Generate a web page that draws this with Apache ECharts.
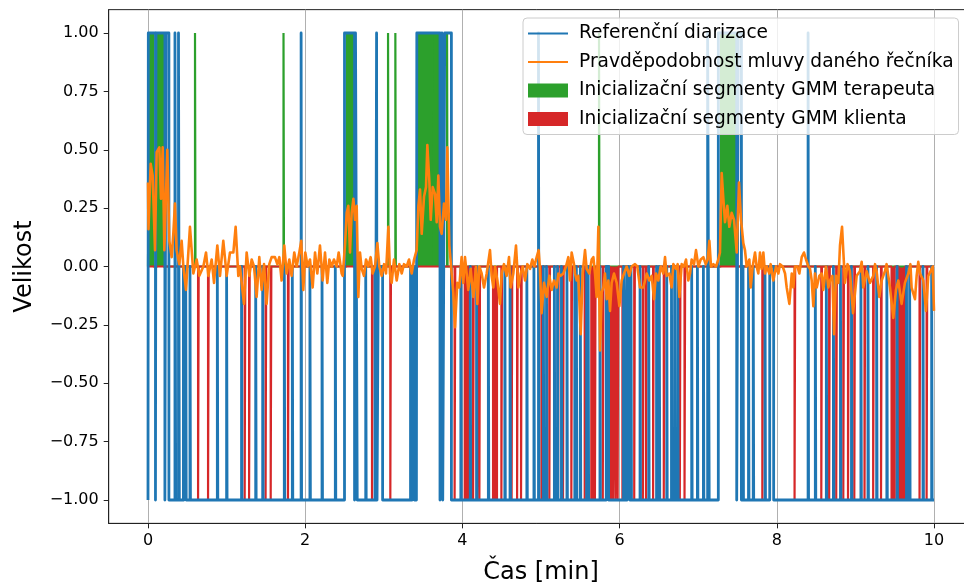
<!DOCTYPE html>
<html><head><meta charset="utf-8">
<script src="https://cdn.jsdelivr.net/npm/echarts@6/dist/echarts.min.js"></script>
<style>html,body{margin:0;padding:0;background:#fff}#c{width:964px;height:585px}</style>
</head><body><div id="c"></div>
<script>
// ---- data ----
const xTicks = [0, 2, 4, 6, 8, 10];
const yTicks = [-1, -0.75, -0.5, -0.25, 0, 0.25, 0.5, 0.75, 1];
const timeStart = 0, timeEnd = 10;
// probability of the speaker's speech: [time (min), value]
const probPoints = [
  [0,0.36],[0.006,0.16],[0.034,0.44],[0.059,0.39],[0.089,0.07],[0.11,0.49],[0.144,0.51],[0.165,0.29],[0.187,0.51],[0.208,0.07],
  [0.246,0.50],[0.271,0.11],[0.301,0.04],[0.322,0.14],[0.343,0.27],[0.364,0.07],[0.398,0.01],[0.428,0.11],[0.45,0.0],[0.483,-0.10],
  [0.534,0.17],[0.577,-0.03],[0.619,0.03],[0.653,-0.04],[0.704,0.0],[0.738,0.06],[0.768,-0.04],[0.81,0.03],[0.84,-0.07],[0.882,0.09],
  [0.916,-0.04],[0.958,0.11],[1.001,-0.04],[1.043,0.06],[1.086,0.06],[1.115,0.17],[1.149,-0.04],[1.17,0.0],
  [1.192,-0.07],[1.221,-0.16],[1.255,0.06],[1.289,-0.04],[1.319,0.03],[1.349,0.0],[1.382,-0.13],[1.416,0.04],[1.446,-0.10],[1.476,0.01],
  [1.509,-0.16],[1.543,0.01],[1.573,0.04],[1.615,0.04],[1.645,0.01],[1.671,0.04],[1.70,-0.06],[1.734,0.09],[1.764,-0.03],[1.798,0.03],
  [1.827,-0.04],[1.861,0.06],[1.891,0.0],[1.925,0.06],[1.95,0.11],[1.976,-0.10],[2.001,0.06],[2.031,0.0],[2.061,0.03],[2.095,-0.09],
  [2.125,0.06],[2.154,-0.03],[2.188,0.09],[2.222,-0.06],[2.252,0.06],[2.281,-0.07],[2.307,0.03],[2.337,0.0],[2.366,0.03],[2.40,0.0],
  [2.426,0.06],[2.464,-0.03],[2.477,-0.04],[2.506,0.09],[2.528,0.23],[2.549,0.26],[2.57,0.06],[2.591,0.23],[2.613,0.29],[2.634,0.20],
  [2.655,0.26],[2.676,-0.13],[2.697,0.06],[2.719,-0.01],[2.748,-0.04],[2.774,0.03],[2.803,0.0],[2.833,0.04],[2.858,-0.03],[2.888,0.0],
  [2.918,0.10],[2.943,0.0],[2.973,-0.04],[3.003,0.01],[3.028,-0.03],[3.058,0.17],[3.079,-0.03],[3.10,-0.07],[3.13,0.03],[3.164,-0.06],
  [3.198,0.01],[3.228,-0.03],[3.257,0.01],[3.291,0.0],[3.321,0.03],[3.355,-0.03],[3.385,0.03],[3.418,0.07],[3.44,0.26],[3.461,0.33],
  [3.482,0.14],[3.512,0.30],[3.537,0.34],[3.554,0.52],[3.58,0.36],[3.597,0.20],[3.622,0.34],[3.652,0.31],[3.673,0.19],[3.694,0.39],
  [3.715,0.17],[3.736,0.14],[3.766,0.27],[3.791,0.20],[3.808,0.51],[3.834,0.09],[3.863,-0.03],[3.884,-0.11],[3.906,-0.26],[3.935,-0.07],
  [3.96,-0.09],[3.99,0.04],[4.011,-0.07],[4.033,0.04],[4.054,-0.03],[4.075,-0.10],[4.105,-0.01],[4.139,-0.13],[4.173,0.0],[4.19,-0.16],
  [4.215,0.0],[4.245,-0.03],[4.275,-0.09],[4.309,-0.03],[4.351,0.07],[4.372,-0.04],[4.394,-0.09],[4.415,0.0],[4.445,-0.06],[4.478,-0.16],
  [4.50,-0.03],[4.529,0.01],[4.563,-0.04],[4.593,0.04],[4.614,-0.09],[4.648,-0.03],[4.682,0.09],[4.712,-0.09],[4.742,-0.03],[4.767,0.0],
  [4.797,-0.06],[4.826,0.01],[4.86,-0.01],[4.89,0.03],[4.915,0.0],[4.945,0.04],[4.97,0.07],[4.985,0.0],
  [5.008,-0.20],[5.038,-0.07],[5.072,-0.13],[5.106,-0.04],[5.136,-0.10],[5.165,-0.06],[5.199,-0.09],[5.221,-0.03],[5.25,-0.04],[5.284,-0.03],
  [5.318,0.0],[5.348,0.04],[5.369,-0.06],[5.39,0.06],[5.42,0.01],[5.433,-0.03],[5.454,-0.06],[5.475,-0.04],[5.505,-0.29],[5.53,-0.03],
  [5.56,0.07],[5.581,-0.01],[5.615,-0.03],[5.645,0.03],[5.666,0.04],[5.687,-0.03],[5.708,-0.13],[5.73,0.17],[5.751,-0.36],[5.772,-0.11],
  [5.793,-0.09],[5.814,-0.03],[5.836,-0.14],[5.857,-0.06],[5.878,-0.19],[5.899,-0.07],[5.929,-0.03],[5.963,-0.07],[5.997,-0.17],[6.026,-0.06],
  [6.056,-0.03],[6.09,0.0],[6.124,-0.04],[6.153,0.0],[6.196,0.01],[6.225,0.0],[6.26,-0.09],
  [6.302,-0.09],[6.345,-0.03],[6.379,-0.06],[6.408,-0.04],[6.438,-0.14],[6.463,-0.03],[6.493,-0.06],[6.522,0.0],[6.556,-0.03],[6.578,0.04],
  [6.599,-0.04],[6.633,-0.03],[6.662,-0.09],[6.684,0.01],[6.718,-0.01],[6.739,0.01],[6.76,-0.13],[6.79,0.01],[6.819,0.0],[6.845,0.03],
  [6.874,-0.06],[6.896,-0.03],[6.917,0.03],[6.947,0.01],[6.972,0.07],[7.002,0.0],[7.032,0.03],[7.066,0.04],[7.095,0.01],[7.121,0.03],
  [7.142,0.11],[7.163,0.0],[7.193,0.01],[7.227,0.0],[7.256,0.03],[7.277,0.06],[7.299,0.40],[7.32,0.29],[7.341,0.19],[7.371,0.26],
  [7.396,0.17],[7.426,0.23],[7.456,0.20],[7.49,0.06],[7.519,0.36],[7.545,0.20],
  [7.574,0.10],[7.595,0.07],[7.617,0.0],[7.651,0.03],[7.668,-0.09],[7.693,0.0],[7.723,0.06],[7.744,0.0],[7.765,-0.03],[7.786,0.06],
  [7.807,-0.01],[7.829,0.06],[7.85,-0.03],[7.871,0.0],[7.905,-0.03],[7.922,0.01],[7.956,-0.06],[7.99,0.0],[8.02,-0.03],[8.041,0.01],
  [8.075,0.0],[8.105,-0.03],[8.126,-0.09],[8.16,-0.16],[8.19,-0.03],[8.211,-0.09],[8.232,0.0],[8.262,0.0],[8.287,-0.03],[8.317,0.04],
  [8.346,0.06],[8.372,0.03],[8.402,0.0],[8.423,-0.01],[8.444,-0.06],[8.465,-0.17],[8.486,-0.03],[8.508,-0.09],[8.541,-0.04],[8.571,-0.03],
  [8.592,-0.10],[8.626,0.0],[8.656,-0.09],[8.677,-0.06],[8.707,-0.04],[8.728,-0.29],[8.753,-0.04],[8.783,-0.07],[8.804,0.09],
  [8.83,0.17],[8.867,-0.07],[8.90,0.01],[8.93,-0.02],[8.97,-0.20],[9.016,-0.04],[9.058,-0.02],[9.08,0.02],[9.10,-0.09],[9.143,-0.02],
  [9.185,-0.07],[9.228,-0.04],[9.25,0.01],[9.27,-0.02],[9.304,-0.13],[9.334,-0.06],[9.376,-0.02],[9.397,0.01],[9.44,-0.09],[9.482,-0.22],
  [9.516,-0.10],[9.546,-0.06],[9.588,-0.16],[9.63,-0.07],[9.673,-0.03],[9.70,0.01],[9.715,-0.09],[9.758,-0.14],[9.779,-0.04],[9.80,0.02],
  [9.822,-0.03],[9.864,-0.06],[9.898,-0.19],[9.927,-0.04],[9.957,-0.02],[9.983,0.0],[10.0,-0.19]
];
// reference diarization: default level -1; [start, end, level]
const refSegments = [
  [0.004,0.095,1],[0.102,0.215,1],[0.228,0.266,1],[0.343,0.352,1],[0.388,0.399,1],
  [0.450,0.456,0],[0.480,0.486,0],[0.534,0.540,0],[0.882,0.888,0],[1.000,1.006,0],[1.190,1.196,0],
  [1.370,1.376,0],[1.459,1.465,0],[1.734,1.740,0],[1.836,1.842,0],[1.948,1.954,1],
  [2.060,2.066,0],[2.214,2.220,0],[2.383,2.389,0],[2.500,2.628,1],[2.640,2.662,1],
  [2.770,2.776,0],[2.888,2.894,0],[2.908,2.914,1],[2.930,2.985,0],
  [3.340,3.360,0],[3.375,3.390,0],[3.400,3.415,0],[3.420,3.715,1],[3.740,3.750,1],[3.775,3.860,1],[3.980,3.986,0],
  [4.100,4.106,0],[4.180,4.186,0],[4.330,4.336,0],[4.540,4.546,0],[4.606,4.612,0],[4.820,4.826,0],[4.910,4.916,0],[4.968,4.974,1],
  [5.030,5.036,0],[5.070,5.076,0],[5.170,5.176,0],[5.210,5.216,0],[5.260,5.266,0],[5.330,5.336,0],[5.430,5.436,0],[5.450,5.456,0],
  [5.500,5.506,0],[5.580,5.586,0],[5.600,5.606,0],[5.750,5.756,0],[5.830,5.860,0],
  [6.050,6.070,0],[6.090,6.096,0],[6.110,6.130,0],[6.145,6.151,0],[6.260,6.266,0],[6.370,6.376,0],[6.470,6.476,0],[6.505,6.511,0],
  [6.600,6.606,0],[6.660,6.666,0],[6.700,6.706,0],[6.740,6.746,0],[6.917,6.923,0],[6.990,6.996,0],[7.066,7.072,0],
  [7.120,7.140,1],[7.256,7.490,1],[7.510,7.550,1],[7.570,7.576,0],[7.640,7.646,0],[7.700,7.706,0],[7.850,7.856,0],[7.910,7.960,0],
  [8.398,8.404,1],[8.490,8.496,0],[8.630,8.636,0],[8.720,8.726,0],[8.810,8.816,0],[8.950,8.956,0],
  [9.070,9.076,0],[9.160,9.166,0],[9.270,9.276,0],[9.400,9.406,0],[9.530,9.536,0],[9.650,9.656,0],[9.690,9.696,0],[9.860,9.866,0],[9.970,9.976,0]
];
// therapist GMM init segments (fill 0..1)
const therapistSegments = [
  [0.017,0.067],[0.120,0.195],[0.598,0.604],[1.724,1.730],[2.530,2.610],[3.054,3.060],[3.147,3.153],
  [3.440,3.605],[3.615,3.715],[3.805,3.811],[5.738,5.744],[7.290,7.490]
];
// client GMM init segments (fill 0..-1)
const clientSegments = [
  [0.637,0.645],[0.764,0.772],[1.230,1.238],[1.286,1.294],[1.496,1.504],[1.561,1.569],[1.781,1.789],[2.850,2.858],[3.083,3.091],
  [3.901,3.909],[4.030,4.070],[4.136,4.144],[4.186,4.194],[4.216,4.224],[4.390,4.440],[4.496,4.504],[4.626,4.634],[4.696,4.704],[4.746,4.754],
  [5.006,5.014],[5.106,5.114],[5.216,5.224],[5.280,5.288],[5.386,5.394],[5.556,5.564],[5.640,5.648],[5.666,5.674],[5.686,5.694],[5.786,5.794],
  [5.835,5.843],[5.876,5.884],[5.896,5.904],[5.915,5.923],[5.946,5.954],[5.975,5.983],[6.036,6.044],
  [6.186,6.194],[6.296,6.304],[6.336,6.344],[6.426,6.434],[6.562,6.570],[6.766,6.774],[6.826,6.834],[7.816,7.824],[8.226,8.234],[8.566,8.574],
  [8.666,8.674],[8.756,8.764],[8.846,8.854],[8.906,8.914],[8.986,8.994],[9.116,9.124],[9.226,9.234],[9.326,9.334],[9.460,9.500],
  [9.550,9.630],[9.816,9.824],[9.906,9.914]
];
const names = ['Referenční diarizace','Pravděpodobnost mluvy daného řečníka','Inicializační segmenty GMM terapeuta','Inicializační segmenty GMM klienta'];

// ---- build ----
function stepPoints(segs, base) {
  const s = segs.slice().sort((a,b)=>a[0]-b[0]);
  const pts = [[timeStart, base]];
  s.forEach(g => { pts.push([g[0], base],[g[0], g[2]],[g[1], g[2]],[g[1], base]); });
  pts.push([timeEnd, base]);
  return pts;
}
const refPts = stepPoints(refSegments, -1);
const greenPts = stepPoints(therapistSegments.map(g=>[g[0],g[1],1]), 0);
const redPts = stepPoints(clientSegments.map(g=>[g[0],g[1],-1]), 0);

const FONT = 'DejaVu Sans';
const fmtY = v => (v < 0 ? '\u2212' : '') + Math.abs(v).toFixed(2);

const chart = echarts.init(document.getElementById('c'), null, {renderer:'canvas'});
chart.setOption({
  animation: false,
  backgroundColor: '#ffffff',
  textStyle: {fontFamily: FONT},
  grid: {left: 108.7, top: 9.65, width: 864.6, height: 513.7, outerBoundsMode: 'none', containLabel: false,
         show: true, borderColor: '#222', borderWidth: 1, backgroundColor: 'transparent'},
  legend: {
    orient: 'vertical', left: 523, top: 18,
    padding: [6, 5, 6, 4], itemGap: 9.5, itemWidth: 40, itemHeight: 14,
    backgroundColor: 'rgba(255,255,255,0.8)', borderColor: '#cccccc', borderWidth: 1, borderRadius: 4,
    textStyle: {fontFamily: FONT, fontSize: 18.6, color: '#000', lineHeight: 19, padding: [0,0,0,6]},
    data: [
      {name: names[0], itemStyle: {opacity: 0}}, {name: names[1], itemStyle: {opacity: 0}},
      {name: names[2], icon: 'rect'}, {name: names[3], icon: 'rect'}
    ]
  },
  xAxis: {
    type: 'value', min: -0.5, max: 10.5,
    axisLine: {show: true, onZero: false, lineStyle: {color: '#222', width: 1}},
    axisTick: {show: true, length: 5, customValues: xTicks, lineStyle: {color: '#222', width: 1}},
    axisLabel: {customValues: xTicks, fontSize: 16, color: '#000', margin: 9, fontFamily: FONT, formatter: v => String(v)},
    splitLine: {show: true, lineStyle: {color: '#b0b0b0', width: 1}},
    name: 'Čas [min]', nameLocation: 'middle', nameGap: 37,
    nameTextStyle: {fontSize: 24, color: '#000', fontFamily: FONT}
  },
  yAxis: {
    type: 'value', min: -1.1, max: 1.1,
    axisLine: {show: true, onZero: false, lineStyle: {color: '#222', width: 1}},
    axisTick: {show: true, length: 5, customValues: yTicks, lineStyle: {color: '#222', width: 1}},
    axisLabel: {customValues: yTicks, fontSize: 16, color: '#000', margin: 10, fontFamily: FONT, formatter: fmtY},
    splitLine: {show: false},
    name: 'Velikost', nameLocation: 'middle', nameGap: 72,
    nameTextStyle: {fontSize: 24, color: '#000', fontFamily: FONT}
  },
  series: [
    {name: names[2], type: 'line', data: greenPts, symbol: 'none', showSymbol: false,
     itemStyle: {color: '#2ca02c'}, lineStyle: {color: '#2ca02c', width: 2.2}, areaStyle: {color: '#2ca02c', opacity: 1}, silent: true},
    {name: names[3], type: 'line', data: redPts, symbol: 'none', showSymbol: false,
     itemStyle: {color: '#d62728'}, lineStyle: {color: '#d62728', width: 2.2}, areaStyle: {color: '#d62728', opacity: 1}, silent: true},
    {name: names[0], type: 'line', data: refPts, symbol: 'none', showSymbol: false,
     itemStyle: {color: '#1f77b4'}, lineStyle: {color: '#1f77b4', width: 2.8, join: 'round'}, silent: true},
    {name: names[1], type: 'line', data: probPoints, symbol: 'none', showSymbol: false,
     itemStyle: {color: '#ff7f0e'}, lineStyle: {color: '#ff7f0e', width: 2.6, join: 'round'}, silent: true}
  ]
});
</script></body></html>
